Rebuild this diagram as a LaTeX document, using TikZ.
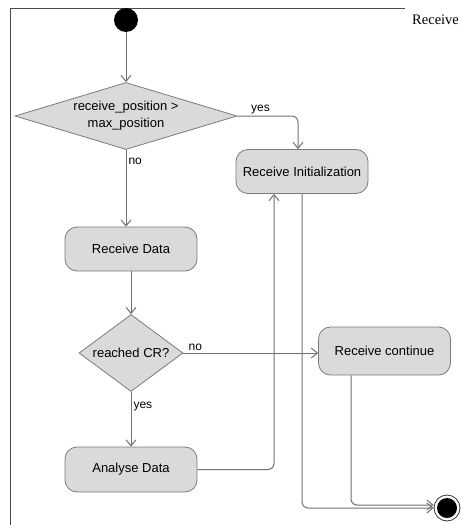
\documentclass[tikz,border=0pt]{standalone}
\usepackage{fontspec}
\setmainfont{Liberation Sans}
\newfontfamily\ttlfont{Liberation Serif}
\usetikzlibrary{arrows.meta,shapes.geometric}
\definecolor{lineg}{HTML}{727272}
\definecolor{boxfill}{HTML}{DADADA}
\definecolor{boxedge}{HTML}{7A7A7A}
\tikzset{
  act/.style    = {rectangle, rounded corners=12pt, draw=boxedge, fill=boxfill, line width=0.8pt,
                   minimum width=132pt, minimum height=44pt, font=\fontsize{13}{16}\selectfont},
  choice/.style = {diamond, draw=boxedge, fill=boxfill, line width=0.8pt, align=center,
                   font=\fontsize{13}{17}\selectfont},
  flow/.style   = {-{Straight Barb[length=6pt, width=10pt]}, line width=1pt, draw=lineg},
  lbl/.style    = {font=\fontsize{12}{14}\selectfont, inner sep=2pt},
}
\begin{document}
\begin{tikzpicture}[x=1pt, y=1pt]
  \useasboundingbox (0,0) rectangle (461,-525);
  \draw[draw=black!70, line width=0.8pt] (10,-525) -- (10,-8) -- (405,-8);
  \node[anchor=west, font=\ttlfont\fontsize{14.5}{16}\selectfont, inner sep=0pt] (ttl) at (412,-20) {Receive};

  \node[circle, fill=black, minimum size=24pt, inner sep=0pt] (init) at (126,-20) {};
  \node[choice, aspect=3.3, inner sep=0pt, minimum width=222pt, minimum height=67pt] (chkpos) at (126,-116)
    {receive\_position >\\max\_position};
  \node[act] (recvinit) at (302,-171.5) {Receive Initialization};
  \node[act] (recvdata) at (131,-249) {Receive Data};
  \node[choice, aspect=1.35, inner sep=3pt, minimum width=104pt, minimum height=77pt] (chkcr) at (131,-353)
    {reached CR?};
  \node[act, minimum height=48pt] (recvcont) at (384.5,-351) {Receive continue};
  \node[act, minimum height=45pt] (analyse) at (131,-469.5) {Analyse Data};
  \node[circle, draw=black!80, fill=white, line width=0.8pt, minimum size=26pt, inner sep=0pt,
        path picture={\fill[black] (path picture bounding box.center) circle (10pt);}] (final) at (447,-508) {};

  \draw[flow] (init) -- (chkpos.north);
  \draw[flow, rounded corners=6pt] (chkpos.east) -| node[lbl, pos=0.19, above] {yes} ([xshift=-4pt]recvinit.north);
  \draw[flow] (chkpos.south) -- node[lbl, pos=0.15, right] {no} (recvdata.north -| chkpos.south);
  \draw[flow] (recvdata.south) -- (chkcr.north);
  \draw[flow] (chkcr.east) -- node[lbl, pos=0.02, anchor=south west] {no} (recvcont.west |- chkcr.east);
  \draw[flow] (chkcr.south) -- node[lbl, pos=0.27, right] {yes} (analyse.north);
  \draw[flow, rounded corners=6pt] (analyse.east) -| ([xshift=-28pt]recvinit.south);
  \draw[flow, rounded corners=6pt] (recvinit.south) |- (final.west);
  \draw[flow, rounded corners=6pt] ([xshift=-33.5pt]recvcont.south) |- ([yshift=3pt]final.west);
\end{tikzpicture}
\end{document}
